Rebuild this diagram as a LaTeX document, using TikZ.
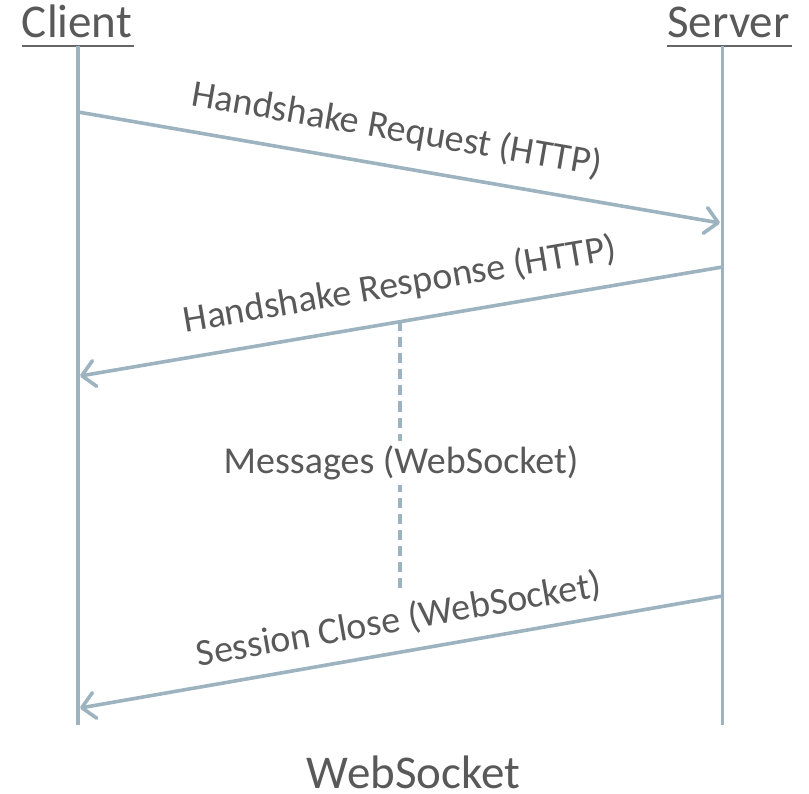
\documentclass[tikz,border=0pt]{standalone}
\usepackage{fontspec}
\setmainfont{Carlito}
\usetikzlibrary{arrows.meta}
\definecolor{lifeblue}{HTML}{9DB4C0}
\definecolor{txtgray}{HTML}{595959}
\definecolor{ulgray}{HTML}{666666}
\tikzset{
  title/.style={text=txtgray, font=\fontsize{47}{52}\selectfont, inner sep=0pt, anchor=base},
  msglabel/.style={text=txtgray, font=\fontsize{38}{43}\selectfont, inner sep=0pt},
  lifeline/.style={draw=lifeblue, line width=3.6pt},
  msg/.style={draw=lifeblue, line width=3.6pt,
    -{Straight Barb[length=13pt, width=26pt, line cap=round, line join=round]}},
  ulbar/.style={draw=ulgray, line width=2.8pt},
  gapline/.style={draw=lifeblue, line width=3.6pt, dash pattern=on 10pt off 6pt}
}
\begin{document}
\begin{tikzpicture}[x=1pt, y=-1pt]
  \useasboundingbox (0,0) rectangle (809,794);

  % headings
  \node[title] (client) at (77,38) {Client};
  \node[title] (server) at (728.5,38) {Server};
  \draw[ulbar] ([yshift=-8pt]client.base west) -- ([yshift=-8pt, xshift=2pt]client.base east);
  \draw[ulbar] ([yshift=-8pt]server.base west) -- ([yshift=-8pt, xshift=2pt]server.base east);

  % lifelines
  \coordinate (ctop) at (78,46);
  \coordinate (cbot) at (78,725);
  \coordinate (stop) at (722.5,46);
  \coordinate (sbot) at (722.5,725);
  \draw[lifeline] (ctop) -- (cbot);
  \draw[lifeline] (stop) -- (sbot);

  % message end points
  \coordinate (reqA) at (78,112);
  \coordinate (reqB) at (720,223);
  \coordinate (resA) at (722.5,267);
  \coordinate (resB) at (80,376);
  \coordinate (clsA) at (722.5,596);
  \coordinate (clsB) at (80,708);

  \draw[msg] (reqA) -- (reqB);
  \draw[msg] (resA) -- (resB);
  \draw[msg] (clsA) -- (clsB);

  % message stream between handshake and close
  \coordinate (dashTop) at (400,321.5);
  \coordinate (dashBot) at (400,590);
  \draw[gapline] (dashTop) -- (dashBot);
  \node[msglabel, fill=white, inner xsep=4pt, inner ysep=5pt] (msgs) at (401,463) {Messages (WebSocket)};

  % message labels
  \node[msglabel, rotate=-9.78] (reqlbl) at (397,130) {Handshake Request (HTTP)};
  \node[msglabel, rotate=9.6] (reslbl) at (400,285) {Handshake Response (HTTP)};
  \node[msglabel, rotate=9.9] (clslbl) at (399,620) {Session Close (WebSocket)};

  % caption
  \node[title] (caption) at (413.5,788) {WebSocket};
\end{tikzpicture}
\end{document}
